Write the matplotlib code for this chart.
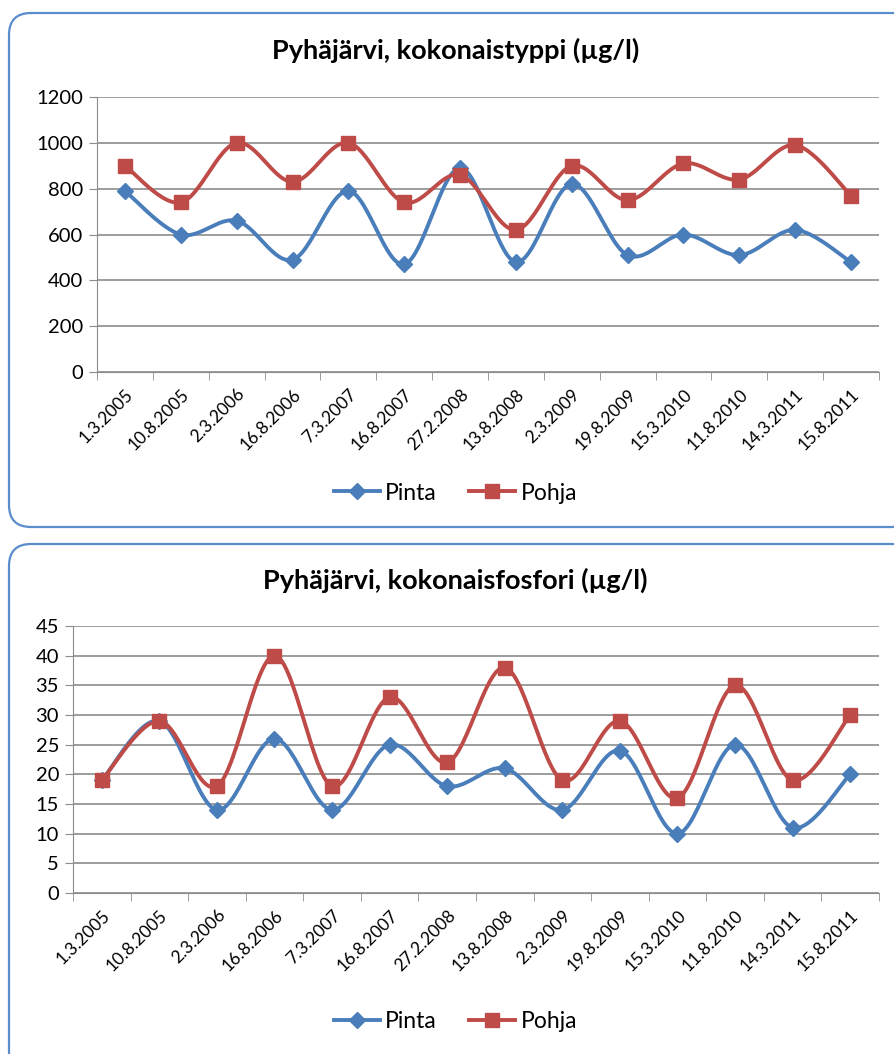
import numpy as np
import matplotlib.pyplot as plt
from matplotlib.patches import FancyBboxPatch
from matplotlib.ticker import FixedLocator

# data
dates = ['1.3.2005', '10.8.2005', '2.3.2006', '16.8.2006', '7.3.2007', '16.8.2007',
         '27.2.2008', '13.8.2008', '2.3.2009', '19.8.2009', '15.3.2010', '11.8.2010',
         '14.3.2011', '15.8.2011']
typpi_pinta = [790, 600, 660, 490, 790, 470, 890, 480, 820, 510, 600, 510, 620, 480]
typpi_pohja = [900, 740, 1000, 830, 1000, 740, 860, 620, 900, 750, 910, 840, 990, 770]
fosfori_pinta = [19, 29, 14, 26, 14, 25, 18, 21, 14, 24, 10, 25, 11, 20]
fosfori_pohja = [19, 29, 18, 40, 18, 33, 22, 38, 19, 29, 16, 35, 19, 30]

BLUE = '#4A7EBB'
RED = '#BE4B48'
FONT = 'Lato'

W, H = 895, 1054


def smooth(x, y, n=30):
    # Excel style smoothed line: Bezier segments with catmull-rom control points
    x = np.asarray(x, float)
    y = np.asarray(y, float)
    P = np.column_stack([x, y])
    out = []
    for i in range(len(P) - 1):
        p0 = P[i - 1] if i > 0 else P[i]
        p1 = P[i]
        p2 = P[i + 1]
        p3 = P[i + 2] if i + 2 < len(P) else P[i + 1]
        c1 = p1 + (p2 - p0) / 6
        c2 = p2 - (p3 - p1) / 6
        t = np.linspace(0, 1, n)[:, None]
        seg = ((1 - t) ** 3) * p1 + 3 * ((1 - t) ** 2) * t * c1 + 3 * (1 - t) * t ** 2 * c2 + t ** 3 * p2
        out.append(seg if i == 0 else seg[1:])
    s = np.vstack(out)
    return s[:, 0], s[:, 1]


fig = plt.figure(figsize=(W / 100, H / 100), dpi=100)

# background frames
bg = fig.add_axes([0, 0, 1, 1])
bg.set_xlim(0, W)
bg.set_ylim(H, 0)
bg.axis('off')
for (x0, y0, w, h) in [(9, 13, 905, 514), (9, 544, 905, 530)]:
    bg.add_patch(FancyBboxPatch((x0, y0), w, h, boxstyle='round,pad=0,rounding_size=22',
                                facecolor='white', edgecolor='#5B8CCB', linewidth=1.6))


def panel(rect, pinta, pohja, ymax, ystep, title, title_y, legend_y):
    ax = fig.add_axes(rect)
    x = np.arange(len(dates))
    for vals, col, mk, ms in [(pinta, BLUE, 'D', 8), (pohja, RED, 's', 10)]:
        sx, sy = smooth(x, vals)
        ax.plot(sx, sy, color=col, lw=2.8, zorder=3, solid_capstyle='round')
        ax.plot(x, vals, ls='none', marker=mk, ms=ms, color=col, zorder=4)
    ax.set_xlim(-0.5, len(dates) - 0.5)
    ax.set_ylim(0, ymax)
    ax.set_yticks(np.arange(0, ymax + 1, ystep))
    ax.yaxis.grid(True, color='#8C8C8C', lw=1.2)
    ax.set_axisbelow(True)
    for s in ['top', 'right']:
        ax.spines[s].set_visible(False)
    ax.spines['left'].set_color('#8C8C8C')
    ax.spines['bottom'].set_color('#8C8C8C')
    ax.set_xticks(x)
    ax.set_xticklabels(dates, rotation=45, ha='right', va='top', rotation_mode='anchor',
                       fontsize=12.5, family=FONT)
    ax.tick_params(axis='x', which='major', length=0, pad=10)
    ax.xaxis.set_minor_locator(FixedLocator(np.arange(-0.5, len(dates), 1.0)))
    ax.tick_params(axis='x', which='minor', length=6, color='#8C8C8C')
    ax.tick_params(axis='y', length=6, color='#8C8C8C', labelsize=14.5, pad=4)
    for lab in ax.get_yticklabels():
        lab.set_family(FONT)
    fig.text(0.5 + 8 / W, 1 - title_y / H, title, ha='center', va='center',
             fontsize=19.5, fontweight='bold', family=FONT)
    h1, = ax.plot([], [], color=BLUE, lw=2.8, marker='D', ms=8)
    h2, = ax.plot([], [], color=RED, lw=2.8, marker='s', ms=10)
    fig.legend([h1, h2], ['Pinta', 'Pohja'], loc='center', bbox_to_anchor=(0.5 + 8 / W, 1 - legend_y / H),
               ncol=2, frameon=False, prop={'family': FONT, 'size': 16.5}, handlelength=2.0,
               columnspacing=1.4, handletextpad=0.25)
    return ax


panel([97 / W, 1 - 372 / H, (879 - 97) / W, (372 - 97) / H], typpi_pinta, typpi_pohja,
      1200, 200, 'Pyhäjärvi, kokonaistyppi (µg/l)', 50, 493)
panel([73 / W, 1 - 893 / H, (879 - 73) / W, (893 - 626) / H], fosfori_pinta, fosfori_pohja,
      45, 5, 'Pyhäjärvi, kokonaisfosfori (µg/l)', 580, 1022)

fig.savefig('out.png', dpi=100)
